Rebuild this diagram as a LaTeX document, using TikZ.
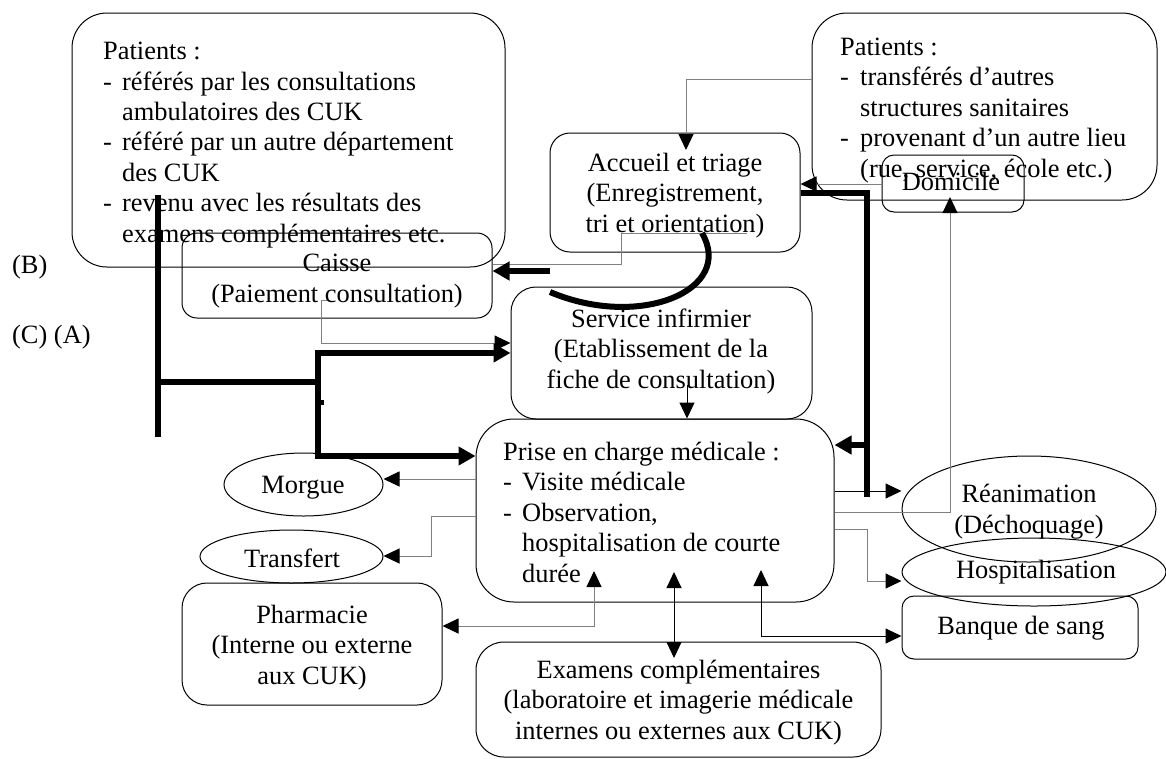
\documentclass[tikz,border=0pt]{standalone}
\usepackage{fontspec}
\setmainfont{Liberation Serif}
\usetikzlibrary{arrows.meta,shapes.geometric,calc}
\definecolor{lgray}{RGB}{128,128,128}
\newcommand\dfont{\fontsize{26.4}{30.4}\selectfont}
\begin{document}
\begin{tikzpicture}[x=1pt,y=-1pt,
  box/.style={draw=black, line width=1pt, inner sep=0pt, rectangle},
  ell/.style={draw=black, line width=1pt, inner sep=0pt, ellipse},
  txt/.style={inner sep=0pt, font=\dfont, align=center, anchor=base},
  ltxt/.style={inner sep=0pt, font=\dfont, align=left, anchor=base west},
  gc/.style={draw=lgray, line width=1pt},
  bc/.style={draw=black, line width=1pt},
  thk/.style={draw=black, line width=6pt},
  arr/.style={-{Triangle[length=16pt,width=15pt,color=black]}},
  darr/.style={{Triangle[length=16pt,width=15pt,color=black]}-{Triangle[length=16pt,width=15pt,color=black]}},
  tarr/.style={-{Triangle[length=17pt,width=18pt]}}
]
\useasboundingbox (0,0) rectangle (1166,758);

% ---- boxes
\node[box, rounded corners=35pt, minimum width=433pt, minimum height=254pt] (patL) at (288.5,140) {};
\node[box, rounded corners=35pt, minimum width=345pt, minimum height=187pt] (patR) at (984.5,106.5) {};
\node[box, rounded corners=15pt, minimum width=310pt, minimum height=85pt] (caisse) at (337,275.5) {};
\node[box, rounded corners=20pt, minimum width=250pt, minimum height=119pt] (accueil) at (675,192.5) {};
\node[box, rounded corners=12pt, minimum width=142pt, minimum height=57pt] (domicile) at (953,183.5) {};
\node[box, rounded corners=25pt, minimum width=301pt, minimum height=132pt] (service) at (661.5,353) {};
\node[box, rounded corners=38pt, minimum width=358pt, minimum height=183pt] (prise) at (655,510.5) {};
\node[box, rounded corners=25pt, minimum width=260pt, minimum height=122pt] (pharma) at (312,644) {};
\node[box, rounded corners=28pt, minimum width=405pt, minimum height=115pt] (examens) at (678.5,699.5) {};
\node[box, rounded corners=12pt, minimum width=236pt, minimum height=63pt] (banque) at (1020,627.5) {};
\node[ell, minimum width=159pt, minimum height=63pt] (morgue) at (303.5,484.5) {};
\node[ell, minimum width=183pt, minimum height=53pt] (transfert) at (291.5,556.5) {};
\node[ell, minimum width=254pt, minimum height=106pt] (reanim) at (1029,509) {};
\node[ell, minimum width=264pt, minimum height=68pt] (hospit) at (1034,572) {};

% ---- texts (anchor = baseline of the last line)
\node[ltxt] (patLt) at (103,242) {Patients :\\
\makebox[19pt][l]{-}référés par les consultations\\
\hspace*{19pt}ambulatoires des CUK\\
\makebox[19pt][l]{-}référé par un autre département\\
\hspace*{19pt}des CUK\\
\makebox[19pt][l]{-}revenu avec les résultats des\\
\hspace*{19pt}examens complémentaires etc.};
\node[ltxt] (patRt) at (840,177) {Patients :\\
\makebox[20pt][l]{-}transférés d’autres\\
\hspace*{20pt}structures sanitaires\\
\makebox[20pt][l]{-}provenant d’un autre lieu\\
\hspace*{20pt}(rue, service, école etc.)};
\node[txt] (accueilt) at (675,232) {Accueil et triage\\(Enregistrement,\\tri et orientation)};
\node[txt] (caisset) at (337,302) {Caisse\\(Paiement consultation)};
\node[txt] (domicilet) at (951,190) {Domicile};
\node[txt] (servicet) at (661,388) {Service infirmier\\(Etablissement de la\\fiche de consultation)};
\node[ltxt] (priset) at (503,582) {Prise en charge médicale :\\
\makebox[19pt][l]{-}Visite médicale\\
\makebox[19pt][l]{-}Observation,\\
\hspace*{19pt}hospitalisation de courte\\
\hspace*{19pt}durée};
\node[txt] (pharmat) at (312,684) {Pharmacie\\(Interne ou externe\\aux CUK)};
\node[txt] (examenst) at (678.5,739) {Examens complémentaires\\(laboratoire et imagerie médicale\\internes ou externes aux CUK)};
\node[txt] (banquet) at (1021,634) {Banque de sang};
\node[txt] (morguet) at (303,493) {Morgue};
\node[txt] (transfertt) at (292,567) {Transfert};
\node[txt] (reanimt) at (1029,533) {Réanimation\\(Déchoquage)};
\node[txt] (hospitt) at (1036,578) {Hospitalisation};
\node[ltxt] (labB) at (12,273) {(B)};
\node[ltxt] (labCA) at (12,343) {(C) (A)};

% ---- free ends
\coordinate (aT) at (686,150);
\coordinate (aS) at (747,233);
\coordinate (cS) at (327,300);
\coordinate (cv) at (702,233);
\coordinate (ce) at (550,292);
\coordinate (sS) at (687,385);
\coordinate (pPh) at (594,571);
\coordinate (pEx) at (674,572);
\coordinate (eEx) at (674,658);
\coordinate (pBa) at (761,570);
\coordinate (dT) at (950,197);
\coordinate (bT) at (158,195);
\coordinate (bB) at (158,437);
\coordinate (rB) at (867,497);

% ---- thin connectors
\draw[gc, arr] (patR.west |- 0,79) -| (aT);
\draw[gc, arr] (domicile.west |- 0,184) -- (accueil.east |- 0,184);
\draw[gc] (aS) -- (621,233) -- (621,264) -- (caisse.east |- 0,264);
\draw[gc, arr] (cS) -- (321,300) -- (321,343) -- (service.west |- 0,343);
\draw[bc, arr] (sS) -- (prise.north -| sS);
\draw[gc, arr] (prise.west |- 0,479) -- (morgue.east |- 0,479);
\draw[gc, arr] (prise.west |- 0,516) -- (431,516) -- (431,556) -- (transfert.east |- 0,556);
\draw[gc, darr] (pPh) -- (594,626) -- (pharma.east |- 0,626);
\draw[bc, darr] (pEx) -- (eEx);
\draw[bc, darr] (pBa) -- (761,636) -- (banque.west |- 0,636);
\draw[bc, arr] (prise.east |- 0,491) -- (reanim.west |- 0,491);
\draw[gc, arr] (prise.east |- 0,512) -- (950,512) -- (dT);
\draw[gc, arr] (prise.east |- 0,529) -- (867,529) -- (867,581) -- (hospit.west |- 0,581);

% ---- thick connectors
\draw[thk, tarr] (accueil.west |- 0,271) -- (caisse.east |- 0,271);
\draw[thk] (cv) .. controls (735,290) and (640,330) .. (ce);
\draw[thk] (bT) -- (bB);
\draw[thk, tarr] (158,382) -- (318,382) -- (318,353) -- (service.west |- 0,353);
\draw[thk, tarr] (318,382) -- (318,456) -- (prise.west |- 0,456);
\draw[thk, line width=5pt] (318,402) -- (324,402);
\draw[thk] (accueil.east |- 0,193) -- (867,193) -- (rB);
\draw[thk, tarr] (867,445) -- (prise.east |- 0,445);
\end{tikzpicture}
\end{document}
